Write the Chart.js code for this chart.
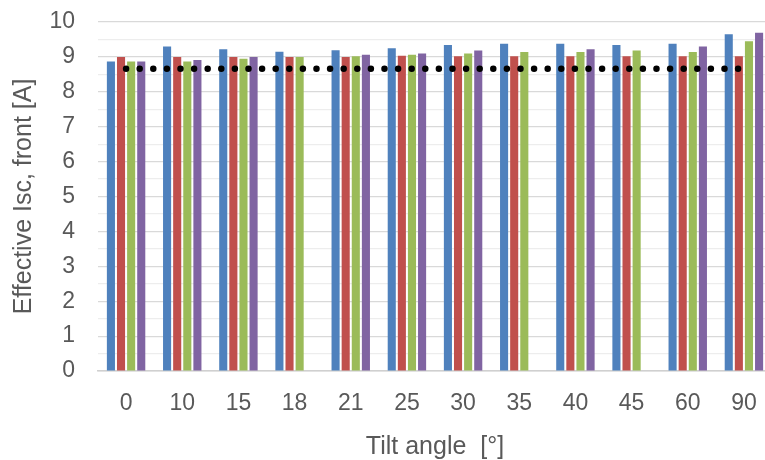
<!DOCTYPE html>
<html>
<head>
<meta charset="utf-8">
<script src="https://cdn.jsdelivr.net/npm/chart.js@4/dist/chart.umd.min.js"></script>
<style>
  html, body { margin: 0; padding: 0; background: #ffffff; overflow: hidden; }
  #wrap { width: 772px; height: 460px; }
</style>
</head>
<body>
<div id="wrap"><canvas id="c" width="772" height="460"></canvas></div>
<script>
const categories = ['0', '10', '15', '18', '21', '25', '30', '35', '40', '45', '60', '90'];
const series1 = [8.87, 9.30, 9.22, 9.15, 9.19, 9.25, 9.34, 9.38, 9.38, 9.34, 9.38, 9.65];
const series2 = [9.00, 9.00, 9.00, 9.00, 9.00, 9.03, 9.02, 9.02, 9.02, 9.02, 9.02, 9.02];
const series3 = [8.87, 8.87, 8.95, 9.00, 9.02, 9.06, 9.10, 9.14, 9.14, 9.18, 9.14, 9.45];
const series4 = [8.87, 8.91, 9.00, null, 9.06, 9.10, 9.18, null, 9.22, null, 9.30, 9.69];
const referenceLevel = [8.66, 8.66, 8.66, 8.66, 8.66, 8.66, 8.66, 8.66, 8.66, 8.66, 8.66, 8.66];
const yTicks = [0, 1, 2, 3, 4, 5, 6, 7, 8, 9, 10];

const FONT = "'Liberation Sans', Arial, sans-serif";
const TEXT = '#595959';

function bar(label, data, color) {
  return {
    type: 'bar', label, data, backgroundColor: color, borderWidth: 0,
    categoryPercentage: 0.72, barPercentage: 0.8, order: 1
  };
}

new Chart(document.getElementById('c'), {
  data: {
    labels: categories,
    datasets: [
      {
        type: 'line', label: 'Reference', data: referenceLevel,
        borderColor: '#000000', borderWidth: 6.5, borderDash: [0, 13.6],
        borderCapStyle: 'round', pointRadius: 0, fill: false, tension: 0, order: 0
      },
      bar('Series 1', series1, '#4F81BD'),
      bar('Series 2', series2, '#C0504D'),
      bar('Series 3', series3, '#9BBB59'),
      bar('Series 4', series4, '#8064A2')
    ]
  },
  options: {
    responsive: false,
    animation: false,
    devicePixelRatio: 1,
    layout: { padding: { left: 0, top: 22, right: 0, bottom: 0 } },
    plugins: { legend: { display: false }, tooltip: { enabled: false } },
    scales: {
      x: {
        afterFit: (s) => { s.height = 89; s.paddingLeft = 0; s.paddingRight = 0; },
        grid: { display: false, drawTicks: false },
        border: { display: true, color: '#d0d0d0', width: 1.5 },
        ticks: { color: TEXT, font: { family: FONT, size: 23 }, padding: 19, maxRotation: 0 },
        title: { display: true, text: 'Tilt angle  [°]', color: TEXT, font: { family: FONT, size: 25 }, padding: { top: 0, bottom: -2 } }
      },
      y: {
        min: 0, max: 10,
        afterFit: (s) => { s.width = 98; s.paddingTop = 0; s.paddingBottom = 0; },
        afterBuildTicks: (s) => {
          const t = [];
          for (let i = 0; i <= 20; i++) t.push({ value: i / 2 });
          s.ticks = t;
        },
        grid: {
          drawTicks: false,
          color: (ctx) => (ctx.tick && yTicks.includes(ctx.tick.value)) ? '#d9d9d9' : '#ededed',
          lineWidth: 1.2
        },
        border: { display: false },
        ticks: {
          autoSkip: false, color: TEXT, font: { family: FONT, size: 23 }, padding: 23,
          callback: (v) => yTicks.includes(v) ? String(v) : ''
        },
        title: { display: true, text: 'Effective Isc, front [A]', color: TEXT, font: { family: FONT, size: 25 }, padding: { top: 9, bottom: 0 } }
      }
    }
  }
});
</script>
</body>
</html>
